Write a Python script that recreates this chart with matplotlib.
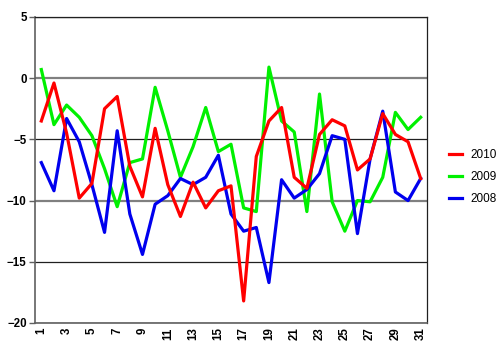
import numpy as np
import matplotlib
matplotlib.use("Agg")
import matplotlib.pyplot as plt

days = list(range(1, 32))

s2010 = [-3.5, -0.4, -4.5, -9.8, -8.6, -2.5, -1.5, -7.2, -9.7, -4.1,
         -8.7, -11.3, -8.5, -10.6, -9.2, -8.8, -18.2, -6.4, -3.5, -2.4,
         -8.1, -9.0, -4.6, -3.4, -3.9, -7.5, -6.6, -2.9, -4.6, -5.2, -8.2]
s2009 = [0.7, -3.8, -2.2, -3.2, -4.7, -7.4, -10.5, -6.9, -6.6, -0.75,
         -4.3, -8.1, -5.6, -2.4, -6.0, -5.4, -10.6, -10.9, 0.9, -3.5,
         -4.4, -10.9, -1.3, -10.1, -12.5, -10.0, -10.1, -8.1, -2.8, -4.2, -3.2]
s2008 = [-6.9, -9.2, -3.3, -5.2, -8.7, -12.6, -4.3, -11.1, -14.4, -10.3,
         -9.6, -8.2, -8.7, -8.1, -6.3, -11.1, -12.5, -12.2, -16.7, -8.3,
         -9.8, -9.1, -7.8, -4.7, -5.0, -12.7, -6.6, -2.7, -9.3, -10.0, -8.2]

yticks = [5, 0, -5, -10, -15, -20]

plt.rcParams['font.family'] = ['Liberation Sans', 'DejaVu Sans']

fig = plt.figure(figsize=(5, 3.52), dpi=100)
ax = fig.add_axes([0.07, 0.0824, 0.784, 0.8696])

# gridlines: alternate grey / black like the original
for v in yticks:
    if v in (0, -10):
        ax.axhline(v, color='#808080', lw=1.6, zorder=1)
    else:
        ax.axhline(v, color='#202020', lw=0.9, zorder=1)

ax.plot(days, s2010, color='#ff0000', lw=2.3, label='2010', zorder=3)
ax.plot(days, s2009, color='#00f000', lw=2.3, label='2009', zorder=2)
ax.plot(days, s2008, color='#0000ee', lw=2.3, label='2008', zorder=2.5)

ax.set_xlim(0.5, 31.5)
ax.set_ylim(-20, 5)
ax.set_yticks(yticks)
ax.set_xticks(days[::2])
ax.set_xticklabels([str(d) for d in days[::2]], rotation=90)
for lab in ax.get_xticklabels() + ax.get_yticklabels():
    lab.set_fontsize(8.3)
    lab.set_fontweight('bold')

for sp in ['left', 'bottom']:
    ax.spines[sp].set_color('#606060')
    ax.spines[sp].set_linewidth(1.2)
for sp in ['top', 'right']:
    ax.spines[sp].set_color('#202020')
    ax.spines[sp].set_linewidth(0.9)
ax.tick_params(axis='y', length=4, width=1, color='#606060', pad=2)
ax.tick_params(axis='x', length=0, pad=3)

leg = ax.legend(loc='center left', bbox_to_anchor=(1.03, 0.477), frameon=False,
                fontsize=8.5, handlelength=1.1, handletextpad=0.7, labelspacing=0.85)

fig.savefig('out.png', dpi=100)
